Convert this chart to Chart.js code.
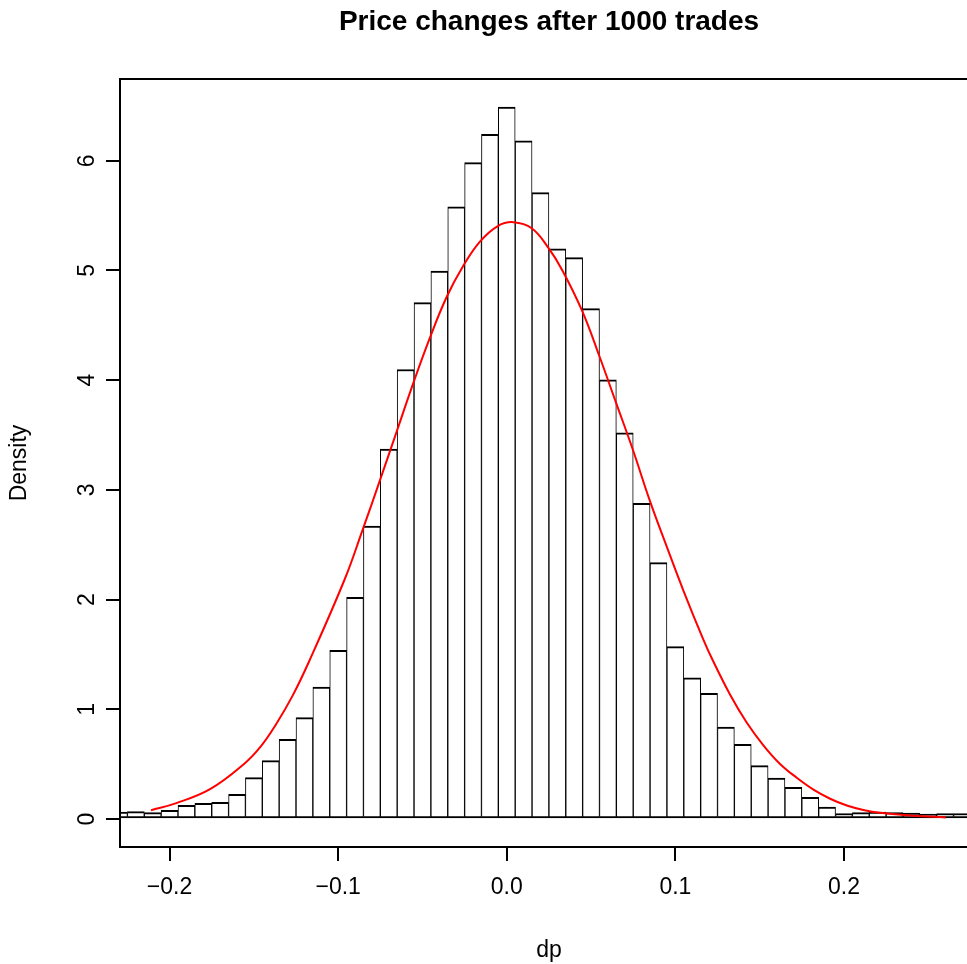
<!DOCTYPE html>
<html>
<head>
<meta charset="utf-8">
<title>Price changes after 1000 trades</title>
<script src="https://cdn.jsdelivr.net/npm/chart.js@4.4.1/dist/chart.umd.min.js"></script>
<style>
  html, body { margin: 0; padding: 0; background: #fff; }
  #wrap { width: 967px; height: 964px; overflow: hidden; }
</style>
</head>
<body>
<div id="wrap"><canvas id="histCanvas" width="990" height="964"></canvas></div>
<script>
const mainTitle = "Price changes after 1000 trades";
const xTitle = "dp";
const yTitle = "Density";

// histogram bins (width 0.01, centred on each value)
const binMids = [
  -0.23, -0.22, -0.21, -0.20, -0.19, -0.18, -0.17, -0.16, -0.15, -0.14,
  -0.13, -0.12, -0.11, -0.10, -0.09, -0.08, -0.07, -0.06, -0.05, -0.04,
  -0.03, -0.02, -0.01, 0.00, 0.01, 0.02, 0.03, 0.04, 0.05, 0.06,
  0.07, 0.08, 0.09, 0.10, 0.11, 0.12, 0.13, 0.14, 0.15, 0.16,
  0.17, 0.18, 0.19, 0.20, 0.21, 0.22, 0.23, 0.24, 0.25, 0.26, 0.27
];
const binDensity = [
  0.064, 0.067, 0.058, 0.079, 0.125, 0.143, 0.152, 0.225, 0.377, 0.532,
  0.726, 0.924, 1.203, 1.538, 2.021, 2.671, 3.373, 4.097, 4.707, 4.995,
  5.579, 5.983, 6.241, 6.490, 6.181, 5.710, 5.196, 5.117, 4.652, 4.002,
  3.519, 2.878, 2.337, 1.571, 1.288, 1.146, 0.839, 0.681, 0.486, 0.374,
  0.289, 0.198, 0.109, 0.049, 0.058, 0.064, 0.058, 0.055, 0.046, 0.049, 0.049
];

// fitted density curve
const curveX = [
  -0.211, -0.196, -0.176, -0.156, -0.146, -0.137, -0.127, -0.117, -0.096,
  -0.0854, -0.0756, -0.0652, -0.0554, -0.0455, -0.0356, -0.0257, -0.0158, -0.0053, 0.0039,
  0.0148, 0.0247, 0.033, 0.0449, 0.0549, 0.0648, 0.0747, 0.085, 0.0949, 0.1047,
  0.1166, 0.1216, 0.1324, 0.1423, 0.1522, 0.1621, 0.172, 0.1819, 0.1918, 0.2017,
  0.2115, 0.2214, 0.2412, 0.2604
];
const curveY = [
  0.080, 0.145, 0.272, 0.50, 0.66, 0.86, 1.125, 1.445, 2.19,
  2.640, 3.070, 3.535, 3.975, 4.390, 4.760, 5.045, 5.265, 5.405, 5.440,
  5.385, 5.205, 5.00, 4.625, 4.220, 3.795, 3.370, 2.895, 2.482, 2.085,
  1.635, 1.465, 1.135, 0.880, 0.672, 0.502, 0.376, 0.268, 0.185, 0.123,
  0.083, 0.057, 0.030, 0.015
];

const xTicks = [-0.2, -0.1, 0.0, 0.1, 0.2];
const xTickLabels = ["\u22120.2", "\u22120.1", "0.0", "0.1", "0.2"];
const yTicks = [0, 1, 2, 3, 4, 5, 6];
const yTickLabels = ["0", "1", "2", "3", "4", "5", "6"];

const xMin = -0.2294, xMax = 0.2795;
const yMin = -0.255, yMax = 6.745;

const fontFamily = "'Liberation Sans', Arial, Helvetica, sans-serif";

// box round the plot region plus the bold main title
const plotFrame = {
  id: "plotFrame",
  afterDraw(chart) {
    const { ctx, chartArea: a } = chart;
    ctx.save();
    ctx.strokeStyle = "#000";
    ctx.lineWidth = 2;
    ctx.strokeRect(a.left, a.top, a.right - a.left, a.bottom - a.top);
    ctx.fillStyle = "#000";
    ctx.font = "bold 28px " + fontFamily;
    ctx.textAlign = "center";
    ctx.textBaseline = "middle";
    ctx.fillText(mainTitle, (a.left + a.right) / 2, 22);
    ctx.restore();
  }
};

let ctx = document.getElementById("histCanvas").getContext("2d");

new Chart(ctx, {
  type: "bar",
  data: {
    datasets: [
      {
        type: "line",
        label: "normal",
        data: curveX.map((x, i) => ({ x: x, y: curveY[i] })),
        borderColor: "#ff0000",
        borderWidth: 2,
        pointRadius: 0,
        fill: false,
        tension: 0.4,
        order: 0
      },
      {
        label: "dp",
        data: binMids.map((x, i) => ({ x: x, y: binDensity[i] })),
        backgroundColor: "#ffffff",
        borderColor: "#000000",
        borderWidth: { top: 2, left: 1, right: 1, bottom: 2 },
        borderSkipped: false,
        barPercentage: 1,
        categoryPercentage: 1,
        clip: 0,
        order: 1
      }
    ]
  },
  options: {
    responsive: false,
    animation: false,
    devicePixelRatio: 1,
    layout: { padding: { top: 79, right: 12, left: 0, bottom: 0 } },
    plugins: {
      legend: { display: false },
      tooltip: { enabled: false },
      title: { display: false }
    },
    scales: {
      x: {
        type: "linear",
        min: xMin,
        max: xMax,
        offset: false,
        afterBuildTicks: s => { s.ticks = xTicks.map(v => ({ value: v })); },
        afterFit: s => { s.height = 117; },
        grid: { offset: false, drawOnChartArea: false, drawTicks: true, tickLength: 14, color: "#000", lineWidth: 2 },
        border: { display: true, color: "#000", width: 2 },
        ticks: {
          color: "#000",
          font: { family: fontFamily, size: 23 },
          padding: 13,
          maxRotation: 0,
          autoSkip: false,
          callback: (v, i) => xTickLabels[i]
        },
        title: {
          display: true,
          text: xTitle,
          color: "#000",
          font: { family: fontFamily, size: 23 },
          padding: { top: 0, bottom: 0 }
        }
      },
      y: {
        type: "linear",
        min: yMin,
        max: yMax,
        afterBuildTicks: s => { s.ticks = yTicks.map(v => ({ value: v })); },
        afterFit: s => { s.width = 120; },
        grid: { drawOnChartArea: false, drawTicks: true, tickLength: 14, color: "#000", lineWidth: 2 },
        border: { display: true, color: "#000", width: 2 },
        ticks: {
          color: "#000",
          font: { family: fontFamily, size: 23 },
          padding: 12,
          minRotation: 90,
          maxRotation: 90,
          crossAlign: "center",
          autoSkip: false,
          callback: (v, i) => yTickLabels[i]
        },
        title: {
          display: true,
          text: yTitle,
          color: "#000",
          font: { family: fontFamily, size: 23 },
          padding: { top: 6, bottom: 0 }
        }
      }
    }
  },
  plugins: [plotFrame]
});
</script>
</body>
</html>
